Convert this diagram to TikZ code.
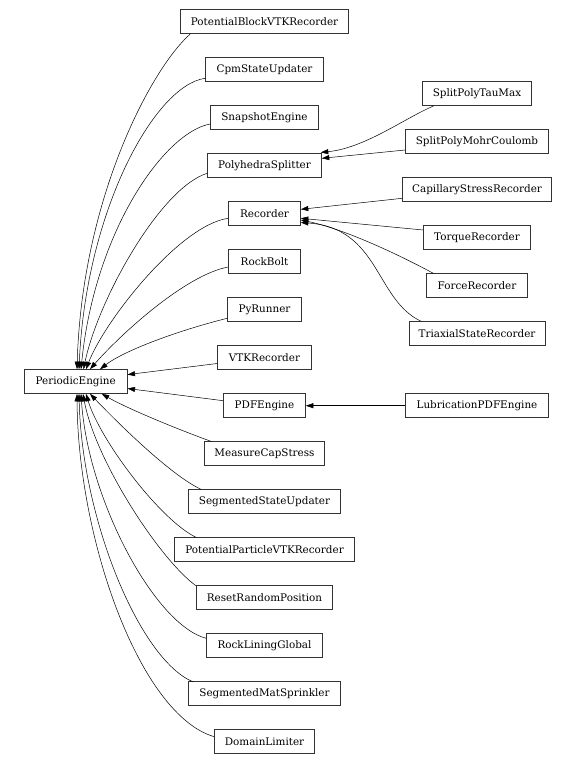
\documentclass[tikz,border=0pt]{standalone}
\usepackage{fontspec}
\setmainfont{DejaVu Serif}
\usetikzlibrary{arrows.meta,calc}
\begin{document}
\begin{tikzpicture}[x=1pt,y=-1pt,
  cls/.style={draw=black!80, line width=0.6pt, minimum height=24pt, inner sep=0pt, font=\fontsize{10.4}{12}\selectfont},
  inh/.style={draw=black, line width=0.5pt, -{Triangle[length=7.5pt,width=5pt]}}]
\useasboundingbox (0,0) rectangle (576,764);
% parent
\node[cls, minimum width=103pt] (PE) at (75.7,381.5) {PeriodicEngine};
% middle column
\node[cls, minimum width=168pt] (PB)   at (264.5,21.7)  {PotentialBlockVTKRecorder};
\node[cls, minimum width=118pt] (Cpm)  at (264.5,69.7)  {CpmStateUpdater};
\node[cls, minimum width=108pt] (Snap) at (264.5,117.7) {SnapshotEngine};
\node[cls, minimum width=114pt] (Poly) at (264.5,165.7) {PolyhedraSplitter};
\node[cls, minimum width=72pt]  (Rec)  at (264.5,213.7) {Recorder};
\node[cls, minimum width=72pt]  (RB)   at (264.5,261.7) {RockBolt};
\node[cls, minimum width=74pt]  (PyR)  at (264.5,309.7) {PyRunner};
\node[cls, minimum width=94pt]  (VTK)  at (264.5,357.7) {VTKRecorder};
\node[cls, minimum width=82pt]  (PDF)  at (264.5,405.7) {PDFEngine};
\node[cls, minimum width=120pt] (MCS)  at (264.5,453.7) {MeasureCapStress};
\node[cls, minimum width=152pt] (SSU)  at (264.5,501.7) {SegmentedStateUpdater};
\node[cls, minimum width=180pt] (PPV)  at (264.5,549.7) {PotentialParticleVTKRecorder};
\node[cls, minimum width=136pt] (RRP)  at (264.5,597.7) {ResetRandomPosition};
\node[cls, minimum width=116pt] (RLG)  at (264.5,645.7) {RockLiningGlobal};
\node[cls, minimum width=152pt] (SMS)  at (264.5,693.7) {SegmentedMatSprinkler};
\node[cls, minimum width=100pt] (DL)   at (264.5,741.7) {DomainLimiter};
% right column
\node[cls, minimum width=109pt] (Tau)   at (477,93.7)  {SplitPolyTauMax};
\node[cls, minimum width=143pt] (Mohr)  at (477,141.7) {SplitPolyMohrCoulomb};
\node[cls, minimum width=149pt] (Cap)   at (477,189.7) {CapillaryStressRecorder};
\node[cls, minimum width=107pt] (Torq)  at (477,237.7) {TorqueRecorder};
\node[cls, minimum width=101pt] (Force) at (477,285.7) {ForceRecorder};
\node[cls, minimum width=136pt] (Tri)   at (477,333.7) {TriaxialStateRecorder};
\node[cls, minimum width=143pt] (Lub)   at (477,405.7) {LubricationPDFEngine};
% edges to PeriodicEngine (upper)
\draw[inh] ($(PB.south west)+(10,0)$) .. controls (150,70) and (82,200) .. ($(PE.north)+(1.3,0)$);
\draw[inh] ($(Cpm.west)+(0,8.6)$) .. controls (155,85) and (86,210) .. ($(PE.north)+(3.3,0)$);
\draw[inh] ($(Snap.west)+(0,6.3)$) .. controls (165,132) and (95,230) .. ($(PE.north)+(5.3,0)$);
\draw[inh] ($(Poly.west)+(0,7.6)$) .. controls (160,188) and (98,300) .. ($(PE.north)+(7.8,0)$);
\draw[inh] ($(Rec.west)+(0,4.6)$) .. controls (180,225) and (105,320) .. ($(PE.north)+(10.3,0)$);
\draw[inh] ($(RB.west)+(0,5.3)$) .. controls (185,275) and (120,335) .. ($(PE.north)+(14.3,0)$);
\draw[inh] ($(PyR.west)+(0,8.6)$) .. controls (180,330) and (125,350) .. ($(PE.north)+(24.3,0)$);
\draw[inh] ($(VTK.west)+(0,5.8)$) -- ($(PE.east)+(0,-6.9)$);
\draw[inh] ($(PDF.west)+(0,-5)$) -- ($(PE.east)+(0,7)$);
% edges to PeriodicEngine (lower)
\draw[inh] ($(MCS.north west)+(7,0)$) .. controls (185,432) and (130,410) .. ($(PE.south)+(26,0)$);
\draw[inh] ($(SSU.north west)+(13,0)$) .. controls (170,475) and (115,420) .. ($(PE.south)+(14.3,0)$);
\draw[inh] ($(PPV.north west)+(22,0)$) .. controls (160,520) and (100,440) .. ($(PE.south)+(10.3,0)$);
\draw[inh] ($(RRP.north west)+(0,0.5)$) .. controls (160,560) and (95,460) .. ($(PE.south)+(7.3,0)$);
\draw[inh] ($(RLG.west)+(0,-7.4)$) .. controls (155,625) and (88,500) .. ($(PE.south)+(5.3,0)$);
\draw[inh] ($(SMS.north west)+(5,0.5)$) .. controls (140,660) and (82,520) .. ($(PE.south)+(3.3,0)$);
\draw[inh] ($(DL.west)+(0,-5)$) .. controls (140,715) and (78,540) .. ($(PE.south)+(1.3,0)$);
% right-side edges
\draw[inh] ($(Tau.south west)+(11.3,0)$) .. controls (405,118) and (365,148) .. ($(Poly.north east)+(-1,-1)$);
\draw[inh] ($(Mohr.west)+(0,8.3)$) -- ($(Poly.east)+(0,-7.4)$);
\draw[inh] ($(Cap.west)+(0,8.6)$) -- ($(Rec.east)+(0,-4.4)$);
\draw[inh] ($(Torq.west)+(0,-7.7)$) -- ($(Rec.east)+(0,4.6)$);
\draw[inh] ($(Force.north west)+(7.3,0)$) .. controls (390,250) and (340,228) .. ($(Rec.east)+(0,6.3)$);
\draw[inh] ($(Tri.north west)+(12.7,0)$) .. controls (375,300) and (380,228) .. ($(Rec.east)+(0,8.8)$);
\draw[inh] (Lub.west) -- (PDF.east);
\end{tikzpicture}
\end{document}
